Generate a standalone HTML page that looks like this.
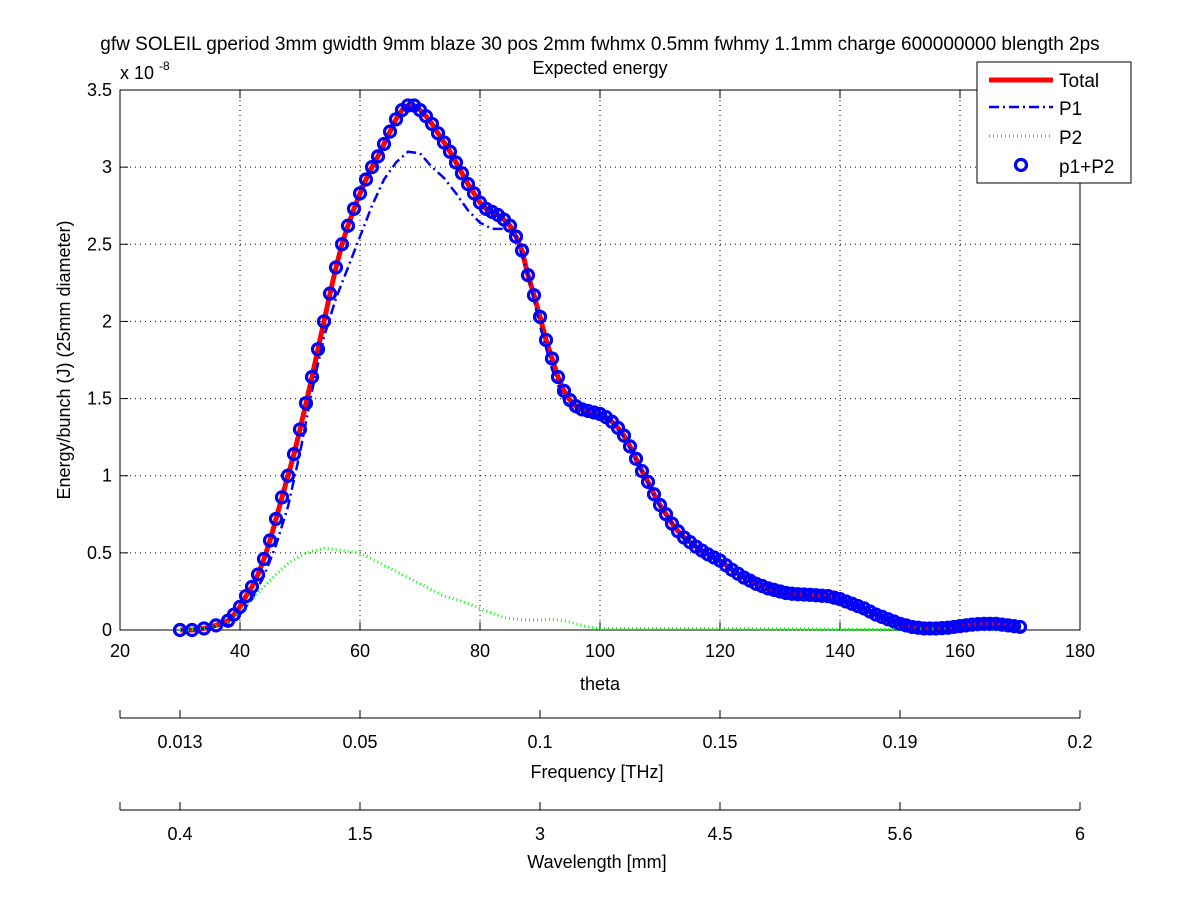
<!DOCTYPE html>
<html><head><meta charset="utf-8"><style>
body{margin:0;background:#fff}
svg{display:block;font-family:"Liberation Sans",sans-serif}
</style></head><body>
<svg id="c" width="1200" height="901"></svg>
<script>
const thetaTotal=[30,32,34,36,38,39,40,41,42,43,44,45,46,47,48,49,50,51,52,53,54,55,56,57,58,59,60,61,62,63,64,65,66,67,68,69,70,71,72,73,74,75,76,77,78,79,80,81,82,83,84,85,86,87,88,89,90,91,92,93,94,95,96,97,98,99,100,101,102,103,104,105,106,107,108,109,110,111,112,113,114,115,116,117,118,119,120,121,122,123,124,125,126,127,128,129,130,131,132,133,134,135,136,137,138,139,140,141,142,143,144,145,146,147,148,149,150,151,152,153,154,155,156,157,158,159,160,161,162,163,164,165,166,167,168,169,170];
const total=[0,0,0.01,0.03,0.06,0.1,0.15,0.22,0.28,0.36,0.46,0.58,0.72,0.86,1.0,1.14,1.3,1.47,1.64,1.82,2.0,2.18,2.35,2.5,2.62,2.73,2.83,2.92,3.0,3.07,3.15,3.23,3.31,3.37,3.4,3.4,3.37,3.33,3.28,3.22,3.16,3.1,3.03,2.96,2.89,2.83,2.77,2.73,2.71,2.69,2.66,2.62,2.55,2.46,2.3,2.17,2.03,1.88,1.76,1.64,1.55,1.49,1.45,1.43,1.42,1.41,1.40,1.38,1.35,1.31,1.26,1.19,1.11,1.03,0.96,0.88,0.81,0.75,0.69,0.64,0.6,0.57,0.54,0.515,0.49,0.47,0.45,0.42,0.39,0.365,0.34,0.32,0.3,0.285,0.27,0.26,0.25,0.24,0.235,0.232,0.23,0.228,0.225,0.222,0.22,0.21,0.2,0.185,0.17,0.155,0.14,0.12,0.1,0.085,0.07,0.055,0.04,0.03,0.02,0.015,0.01,0.01,0.01,0.012,0.015,0.02,0.025,0.03,0.035,0.038,0.04,0.04,0.04,0.035,0.03,0.025,0.02];
const thetaP1=[30,34,38,40,42,44,46,48,50,52,54,56,58,60,62,64,66,68,70,72,74,76,78,80,82,84,86,88,90,92,94,96,98,100,102,104,106,108,110,114,120,130,140,150,160,170];
const p1=[0,0.01,0.04,0.1,0.2,0.35,0.55,0.8,1.15,1.55,1.9,2.15,2.35,2.55,2.75,2.92,3.03,3.1,3.09,3.0,2.93,2.83,2.72,2.64,2.6,2.6,2.55,2.3,1.97,1.69,1.49,1.41,1.4,1.39,1.34,1.25,1.1,0.95,0.8,0.59,0.44,0.245,0.2,0.037,0.025,0.02];
const thetaP2=[30,34,38,40,42,44,46,48,50,52,54,56,58,60,62,64,66,68,70,72,74,76,78,80,82,84,86,88,90,92,94,96,98,100,110,120,140,150,170];
const p2=[0,0.01,0.05,0.12,0.2,0.28,0.36,0.43,0.48,0.51,0.53,0.52,0.51,0.5,0.46,0.42,0.38,0.34,0.3,0.26,0.22,0.2,0.17,0.14,0.11,0.08,0.07,0.065,0.065,0.07,0.06,0.04,0.02,0.01,0.01,0.01,0.005,0.003,0];
const xTicks=[20,40,60,80,100,120,140,160,180];
const yTicks=[0,0.5,1,1.5,2,2.5,3,3.5];
const freqLabels=["0.013","0.05","0.1","0.15","0.19","0.2"];
const waveLabels=["0.4","1.5","3","4.5","5.6","6"];

const NS="http://www.w3.org/2000/svg",svg=document.getElementById('c');
const X=t=>120+(t-20)*6, Y=v=>630-v*540/3.5;
function mk(tag,at,parent){const e=document.createElementNS(NS,tag);for(const k in at)e.setAttribute(k,at[k]);(parent||svg).appendChild(e);return e;}
function txt(s,x,y,anchor,size){const e=mk('text',{x:x,y:y,'text-anchor':anchor||'middle','font-size':size||18});e.textContent=s;return e;}

const box=mk('rect',{x:120,y:90,width:960,height:540,fill:'none',stroke:'#000'});


xTicks.forEach(t=>{
  if(t>20&&t<180){const g=mk('line',{x1:X(t),x2:X(t),y1:90,y2:630,stroke:'#000','stroke-dasharray':'1 4'});
  
  }
  mk('line',{x1:X(t),x2:X(t),y1:630,y2:622,stroke:'#000'});
  mk('line',{x1:X(t),x2:X(t),y1:90,y2:98,stroke:'#000'});
  const l=txt(String(t),X(t),657);
  
  
});
yTicks.forEach(v=>{
  if(v>0&&v<3.5){const g=mk('line',{x1:120,x2:1080,y1:Y(v),y2:Y(v),stroke:'#000','stroke-dasharray':'1 4'});
  
  }
  mk('line',{x1:120,x2:128,y1:Y(v),y2:Y(v),stroke:'#000'});
  mk('line',{x1:1072,x2:1080,y1:Y(v),y2:Y(v),stroke:'#000'});
  const l=txt(String(v),112,Y(v)+6,'end');
  
  
});
const ex=txt('x 10',120,79,'start');
const ex2=txt('-8',159,70,'start',12);
const t1=txt('gfw SOLEIL gperiod 3mm gwidth 9mm blaze 30 pos 2mm fwhmx 0.5mm fwhmy 1.1mm charge 600000000 blength 2ps',600,50,'middle',19);

const t2=txt('Expected energy',600,74);
const xt=txt('theta',600,690);
const yt=txt('Energy/bunch (J) (25mm diameter)',0,0);yt.setAttribute('transform','translate(70,360) rotate(-90)');


function secAxis(y,labels,title,ty,name){
  const a=mk('line',{x1:120,x2:1080,y1:y,y2:y,stroke:'#000'});
  
  mk('line',{x1:120,x2:120,y1:y,y2:y-8,stroke:'#000'});
  labels.forEach((s,i)=>{const x=180+i*180;mk('line',{x1:x,x2:x,y1:y,y2:y-8,stroke:'#000'});
    const l=txt(s,x,y+30);});
  const tt=txt(title,597,ty);
}
secAxis(718,freqLabels,'Frequency [THz]',778,'frequency');
secAxis(810,waveLabels,'Wavelength [mm]',868,'wavelength');

function pts(xs,ys){return xs.map((t,i)=>X(t)+','+Y(ys[i])).join(' ');}
const lt=mk('polyline',{points:pts(thetaTotal,total),fill:'none',stroke:'#f00','stroke-width':5,'stroke-linejoin':'round'});

const l1=mk('polyline',{points:pts(thetaP1,p1),fill:'none',stroke:'#00f','stroke-width':2.5,'stroke-dasharray':'10 4 2 4'});

const l2=mk('polyline',{points:pts(thetaP2,p2),fill:'none',stroke:'#00ff00','stroke-width':3,'stroke-dasharray':'1 3'});

thetaTotal.forEach((t,i)=>{const c=mk('circle',{cx:X(t),cy:Y(total[i]),r:5.5,fill:'none',stroke:'#00f','stroke-width':3.2});
  
  });

const lg=mk('g',{});
mk('rect',{x:977,y:62,width:154,height:121,fill:'#fff',stroke:'#000'},lg);
mk('line',{x1:989,x2:1053,y1:80,y2:80,stroke:'#f00','stroke-width':5},lg);
mk('line',{x1:989,x2:1053,y1:107,y2:107,stroke:'#00f','stroke-width':2.5,'stroke-dasharray':'10 4 2 4'},lg);
mk('line',{x1:989,x2:1053,y1:136,y2:136,stroke:'#00ff00','stroke-width':3,'stroke-dasharray':'1 3'},lg);
mk('circle',{cx:1021,cy:165,r:5.5,fill:'none',stroke:'#00f','stroke-width':3.2},lg);
[['Total',87],['P1',115],['P2',144],['p1+P2',173]].forEach(([s,y])=>{const e=mk('text',{x:1059,y:y,'font-size':19},lg);e.textContent=s;
  });
</script>
</body></html>
